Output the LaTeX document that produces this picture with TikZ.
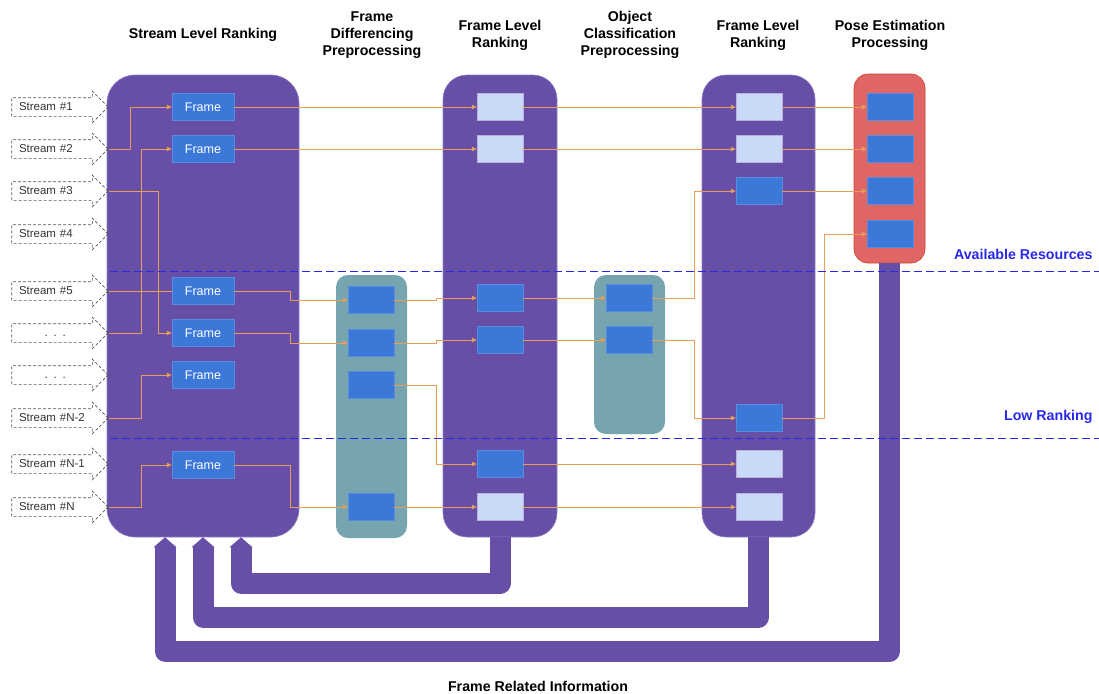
\documentclass[tikz,border=0pt]{standalone}
\usepackage{fontspec}
\setmainfont{Liberation Sans}
\usetikzlibrary{shapes.arrows,arrows.meta}

\definecolor{dpur}{RGB}{103,78,167}
\definecolor{lpur}{RGB}{142,124,195}
\definecolor{tgrn}{RGB}{118,165,175}
\definecolor{lred}{RGB}{224,102,102}
\definecolor{dred}{RGB}{204,65,37}
\definecolor{fblu}{RGB}{60,120,216}
\definecolor{pblu}{RGB}{201,218,248}
\definecolor{orng}{RGB}{230,158,90}
\definecolor{lblu}{RGB}{40,40,230}
\definecolor{sgry}{RGB}{85,85,85}
\tikzstyle{pipeline}=[
    hub/.style={rectangle, rounded corners=28pt, fill=dpur, draw=lpur, semithick, inner sep=0pt},
    prep/.style={rectangle, rounded corners=12pt, fill=tgrn, inner sep=0pt},
    pose/.style={rectangle, rounded corners=14pt, fill=lred, draw=dred, semithick, inner sep=0pt},
    framebox/.style={rectangle, fill=fblu, draw=fblu!85!white, inner sep=0pt,
        minimum width=62pt, minimum height=27pt, text=white, font={\fontsize{12.5}{14}\selectfont}},
    done/.style={framebox, minimum width=46pt},
    idle/.style={done, fill=pblu, draw=lpur!60!white},
    stream/.style={single arrow, draw=sgry, dash pattern=on 3pt off 2pt, line width=0.6pt, text=black!80,
        font={\fontsize{11.5}{13}\selectfont}, text width=72.5pt, align=left,
        inner xsep=7pt, inner ysep=4pt, text height=8pt, text depth=2pt,
        single arrow head extend=6.5pt, single arrow head indent=0pt},
    wire/.style={draw=orng, line width=0.8pt, -{Triangle[length=5pt,width=4.5pt]}},
    pipe/.style={draw=dpur, line width=21pt, line join=round,
        -{Triangle[length=10pt,width=23pt,line width=0pt]}},
    limit/.style={draw=lblu, line width=0.9pt, dash pattern=on 8pt off 4pt},
    limit label/.style={anchor=east, text=lblu, font={\bfseries\fontsize{14.2}{16}\selectfont}},
    coltitle/.style={align=center, font={\bfseries\fontsize{14.2}{17}\selectfont}},
]
\newcommand{\stack}[3]{
    \foreach \n/\y/\s in {#3}{
        \node[\s] (#1\n) at (#2,\y) {};
    }
}

\begin{document}
\begin{tikzpicture}[pipeline, x=1pt, y=-1pt]
    \useasboundingbox (0,0) rectangle (1099,693);

    % columns
    \node[hub, minimum width=192pt, minimum height=462pt] (slr) at (203,306) {};
    \node[prep, minimum width=71pt, minimum height=263pt] (fd) at (371.5,406.5) {};
    \node[hub, rounded corners=24pt, minimum width=114pt, minimum height=462pt] (fa) at (500,306) {};
    \node[prep, minimum width=71pt, minimum height=159pt] (oc) at (629.5,354.5) {};
    \node[hub, rounded corners=24pt, minimum width=113pt, minimum height=462pt] (fb) at (758.5,306) {};
    \node[pose, minimum width=71pt, minimum height=189pt] (pe) at (889.5,168.5) {};

    \node[coltitle] (t-slr) at (203,35) {Stream Level Ranking};
    \node[coltitle] (t-fd) at (372,35) {Frame\\Differencing\\Preprocessing};
    \node[coltitle] (t-fa) at (500,35) {Frame Level\\Ranking};
    \node[coltitle] (t-oc) at (630,35) {Object\\Classification\\Preprocessing};
    \node[coltitle] (t-fb) at (758,35) {Frame Level\\Ranking};
    \node[coltitle] (t-pe) at (890,35) {Pose Estimation\\Processing};
    \node[coltitle] (t-fri) at (538,686) {Frame Related Information};

    % streams and frames
    \foreach \n/\y/\t in {1/107/Stream \#1, 2/149/Stream \#2, 3/191/Stream \#3, 4/234/Stream \#4,
        5/291/Stream \#5, 6/333/\makebox[\linewidth]{. . .}, 7/375/\makebox[\linewidth]{. . .},
        8/418/Stream \#N-2, 9/464/Stream \#N-1, 10/507/Stream \#N}
        \node[stream] (st\n) at (55.25,\y) {\t};
    \foreach \n/\y in {1/107, 2/149, 3/291, 4/333, 5/375, 6/465}
        \node[framebox] (sf\n) at (203,\y) {Frame};

    \stack{fd}{371}{1/300/done, 2/343/done, 3/385/done, 4/507/done}
    \stack{fa}{500}{1/107/idle, 2/149/idle, 3/298/done, 4/340/done, 5/464/done, 6/507/idle}
    \stack{oc}{629}{1/298/done, 2/340/done}
    \stack{fb}{759}{1/107/idle, 2/149/idle, 3/191/done, 4/418/done, 5/464/idle, 6/507/idle}
    \stack{pe}{890}{1/107/done, 2/149/done, 3/191/done, 4/234/done}

    % wires
    \draw[wire] (st2.tip) -- ++(22,0) |- (sf1.west);
    \draw[wire] (st6.tip) -- ++(33,0) |- (sf2.west);
    \draw[wire] (st3.tip) -- ++(50,0) |- (sf4.west);
    \draw[wire, -] (st5.tip) -- (sf3.west);
    \draw[wire] (st8.tip) -- ++(33,0) |- (sf5.west);
    \draw[wire] (st10.tip) -- ++(33,0) |- (sf6.west);

    \draw[wire] (sf1) -- (fa1);
    \draw[wire] (sf2) -- (fa2);
    \draw[wire] (sf3.east) -- ++(56,0) |- (fd1.west);
    \draw[wire] (sf4.east) -- ++(56,0) |- (fd2.west);
    \draw[wire] (sf6.east) -- ++(56,0) |- (fd4.west);

    \draw[wire] (fd1.east) -- ++(42,0) |- (fa3.west);
    \draw[wire] (fd2.east) -- ++(42,0) |- (fa4.west);
    \draw[wire] (fd3.east) -- ++(42,0) |- (fa5.west);
    \draw[wire] (fd4) -- (fa6);

    \draw[wire] (fa3) -- (oc1);
    \draw[wire] (fa4) -- (oc2);
    \foreach \n in {1,2,5,6}
        \draw[wire] (fa\n) -- (fb\n);
    \draw[wire] (oc1.east) -- ++(42,0) |- (fb3.west);
    \draw[wire] (oc2.east) -- ++(42,0) |- (fb4.west);

    \foreach \n in {1,2,3}
        \draw[wire] (fb\n) -- (pe\n);
    \draw[wire] (fb4.east) -- ++(42,0) |- (pe4.west);

    % feedback
    \draw[pipe] (fa.south) -- ++(0,46) -| ([xshift=38pt]slr.south);
    \draw[pipe] (fb.south) -- ++(0,80) -| (slr.south);
    \draw[pipe] (pe.south) -- ++(0,388) -| ([xshift=-38pt]slr.south);

    % limits
    \coordinate (avl-w) at (110,271);
    \coordinate (avl-e) at (1099,271);
    \coordinate (low-w) at (110,438);
    \coordinate (low-e) at (1099,438);
    \draw[limit] (avl-w) -- (avl-e);
    \draw[limit] (low-w) -- (low-e);
    \node[limit label] (avl) at (1096,254) {Available Resources};
    \node[limit label] (low) at (1096,417) {Low Ranking};
\end{tikzpicture}
\end{document}
